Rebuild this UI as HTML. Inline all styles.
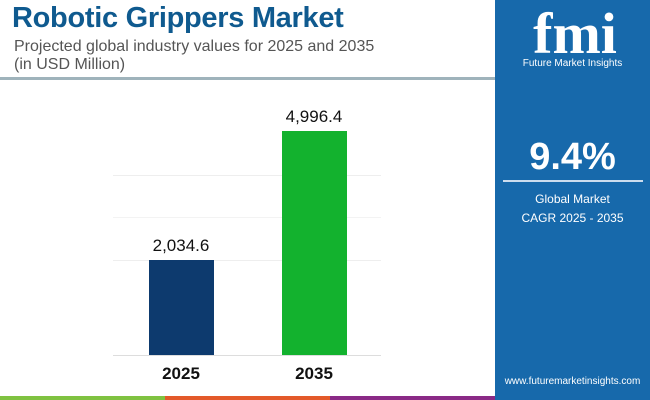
<!DOCTYPE html>
<html><head><style>
body{margin:0;width:650px;height:400px;position:relative;overflow:hidden;background:#fff;font-family:"Liberation Sans",sans-serif}
.a{position:absolute}
</style></head><body>
<div class="a" style="left:12px;top:2px;font-size:29px;font-weight:bold;color:#0f5a8f;letter-spacing:-0.3px">Robotic Grippers Market</div>
<div class="a" style="left:14px;top:38px;font-size:16px;color:#555;line-height:18px">Projected global industry values for 2025 and 2035<br>(in USD Million)</div>
<div class="a" style="left:0;top:77px;width:495px;height:3px;background:#9fb3bb"></div>
<div class="a" style="left:113px;top:175px;width:268px;height:1px;background:#eee"></div>
<div class="a" style="left:113px;top:217px;width:268px;height:1px;background:#f3f3f3"></div>
<div class="a" style="left:113px;top:260px;width:268px;height:1px;background:#eee"></div>
<div class="a" style="left:113px;top:355px;width:268px;height:1px;background:#ddd"></div>
<div class="a" style="left:149px;top:260px;width:65px;height:95px;background:#0d3a6e"></div>
<div class="a" style="left:282px;top:131px;width:65px;height:224px;background:#13b22e"></div>
<div class="a" style="left:131px;top:236px;width:100px;text-align:center;font-size:17px;color:#111">2,034.6</div>
<div class="a" style="left:264px;top:107px;width:100px;text-align:center;font-size:17px;color:#111">4,996.4</div>
<div class="a" style="left:131px;top:364px;width:100px;text-align:center;font-size:17px;font-weight:bold;color:#111">2025</div>
<div class="a" style="left:264px;top:364px;width:100px;text-align:center;font-size:17px;font-weight:bold;color:#111">2035</div>
<div class="a" style="left:0;top:396px;width:165px;height:4px;background:#7fc241"></div>
<div class="a" style="left:165px;top:396px;width:165px;height:4px;background:#e3592a"></div>
<div class="a" style="left:330px;top:396px;width:165px;height:4px;background:#8a2a86"></div>
<div class="a" style="left:495px;top:0;width:155px;height:400px;background:#1769ab"></div>
<div class="a" style="left:510px;top:6px;width:130px;text-align:center;font-size:58px;font-weight:bold;color:#fff;font-family:'Liberation Serif',serif;line-height:56px">fmi</div>
<div class="a" style="left:495px;top:58px;width:155px;text-align:center;font-size:10px;color:#fff">Future Market Insights</div>
<div class="a" style="left:495px;top:136px;width:155px;text-align:center;font-size:38px;font-weight:bold;color:#fff">9.4%</div>
<div class="a" style="left:503px;top:180px;width:140px;height:2px;background:#cde"></div>
<div class="a" style="left:495px;top:190px;width:155px;text-align:center;font-size:12px;color:#fff;line-height:19px">Global Market<br>CAGR 2025 - 2035</div>
<div class="a" style="left:495px;top:376px;width:155px;text-align:center;font-size:10px;color:#fff">www.futuremarketinsights.com</div>
</body></html>
